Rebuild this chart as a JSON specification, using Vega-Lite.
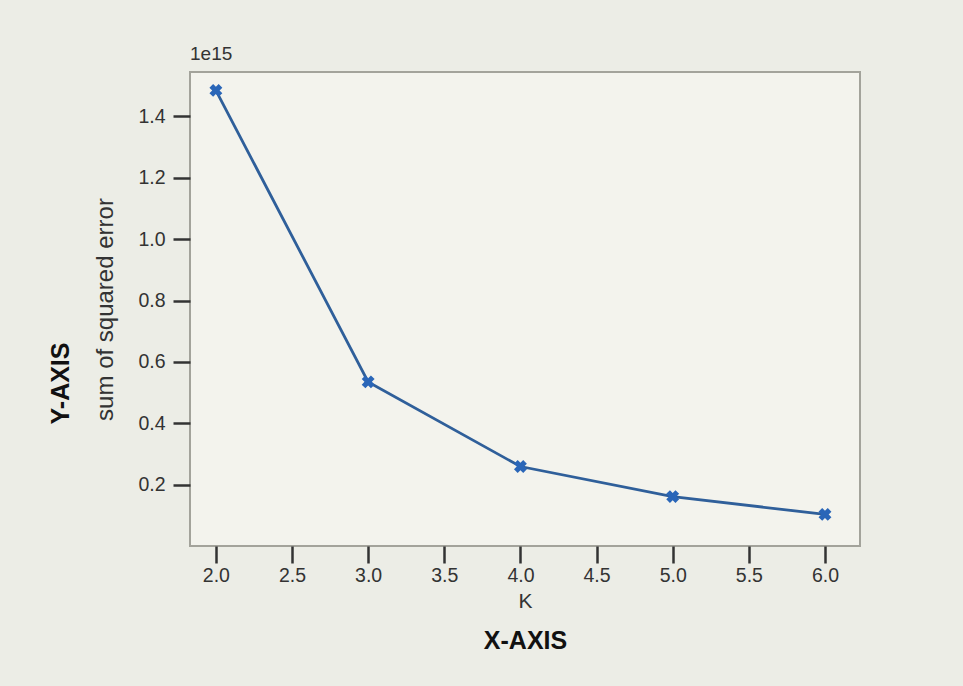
{
  "$schema": "https://vega.github.io/schema/vega-lite/v6.json",
  "autosize": {"type": "none"},
  "padding": {"left": 190, "top": 72, "right": 103, "bottom": 140},
  "width": 670,
  "height": 474,
  "background": "#ecede6",
  "config": {
    "font": "Liberation Sans",
    "view": {"fill": "#f3f3ed", "stroke": "#a3a39b", "strokeWidth": 2}
  },
  "title": {
    "text": "1e15",
    "anchor": "start",
    "frame": "group",
    "fontSize": 19,
    "fontWeight": "normal",
    "color": "#333333",
    "offset": 8
  },
  "data": {
    "values": [
      {"K": 2, "sse": 1.485e15},
      {"K": 3, "sse": 0.535e15},
      {"K": 4, "sse": 0.259e15},
      {"K": 5, "sse": 0.161e15},
      {"K": 6, "sse": 0.103e15}
    ]
  },
  "resolve": {"axis": {"x": "independent", "y": "independent"}},
  "layer": [
    {
      "mark": {"type": "line", "color": "#2f5f9a", "strokeWidth": 2.8},
      "encoding": {
        "x": {
          "field": "K", "type": "quantitative",
          "scale": {"domain": [1.83, 6.23], "nice": false, "zero": false},
          "axis": {
            "orient": "bottom",
            "title": "K",
            "values": [2, 2.5, 3, 3.5, 4, 4.5, 5, 5.5, 6],
            "format": ".1f",
            "grid": false, "domain": false,
            "tickSize": 17, "tickWidth": 2.5, "tickColor": "#333333",
            "labelPadding": 3, "labelFontSize": 19.5, "labelColor": "#333333",
            "titleFontSize": 21, "titleFontWeight": "normal", "titleColor": "#333333",
            "titlePadding": 6
          }
        },
        "y": {
          "field": "sse", "type": "quantitative",
          "scale": {"domain": [0, 1.545e15], "nice": false, "zero": false},
          "axis": {
            "orient": "left",
            "title": "sum of squared error",
            "values": [2e14, 4e14, 6e14, 8e14, 1e15, 1.2e15, 1.4e15],
            "labelExpr": "format(datum.value / 1e15, '.1f')",
            "grid": false, "domain": false,
            "tickSize": 17, "tickWidth": 2.5, "tickColor": "#333333",
            "labelPadding": 8, "labelFontSize": 19.5, "labelColor": "#333333",
            "titleFontSize": 24, "titleFontWeight": "normal", "titleColor": "#333333",
            "titlePadding": 20
          }
        }
      }
    },
    {
      "mark": {"type": "point", "shape": "cross", "angle": 45, "filled": true, "color": "#2a66b8", "size": 170, "opacity": 1},
      "encoding": {
        "x": {
          "field": "K", "type": "quantitative",
          "axis": {
            "orient": "bottom",
            "title": "X-AXIS",
            "labels": false, "ticks": false, "domain": false, "grid": false,
            "titleFontSize": 25, "titleFontWeight": "bold", "titleColor": "#111111",
            "titlePadding": 82
          }
        },
        "y": {
          "field": "sse", "type": "quantitative",
          "axis": {
            "orient": "left",
            "title": "Y-AXIS",
            "labels": false, "ticks": false, "domain": false, "grid": false,
            "titleFontSize": 25, "titleFontWeight": "bold", "titleColor": "#111111",
            "titlePadding": 117,
            "titleY": 311
          }
        }
      }
    }
  ]
}
